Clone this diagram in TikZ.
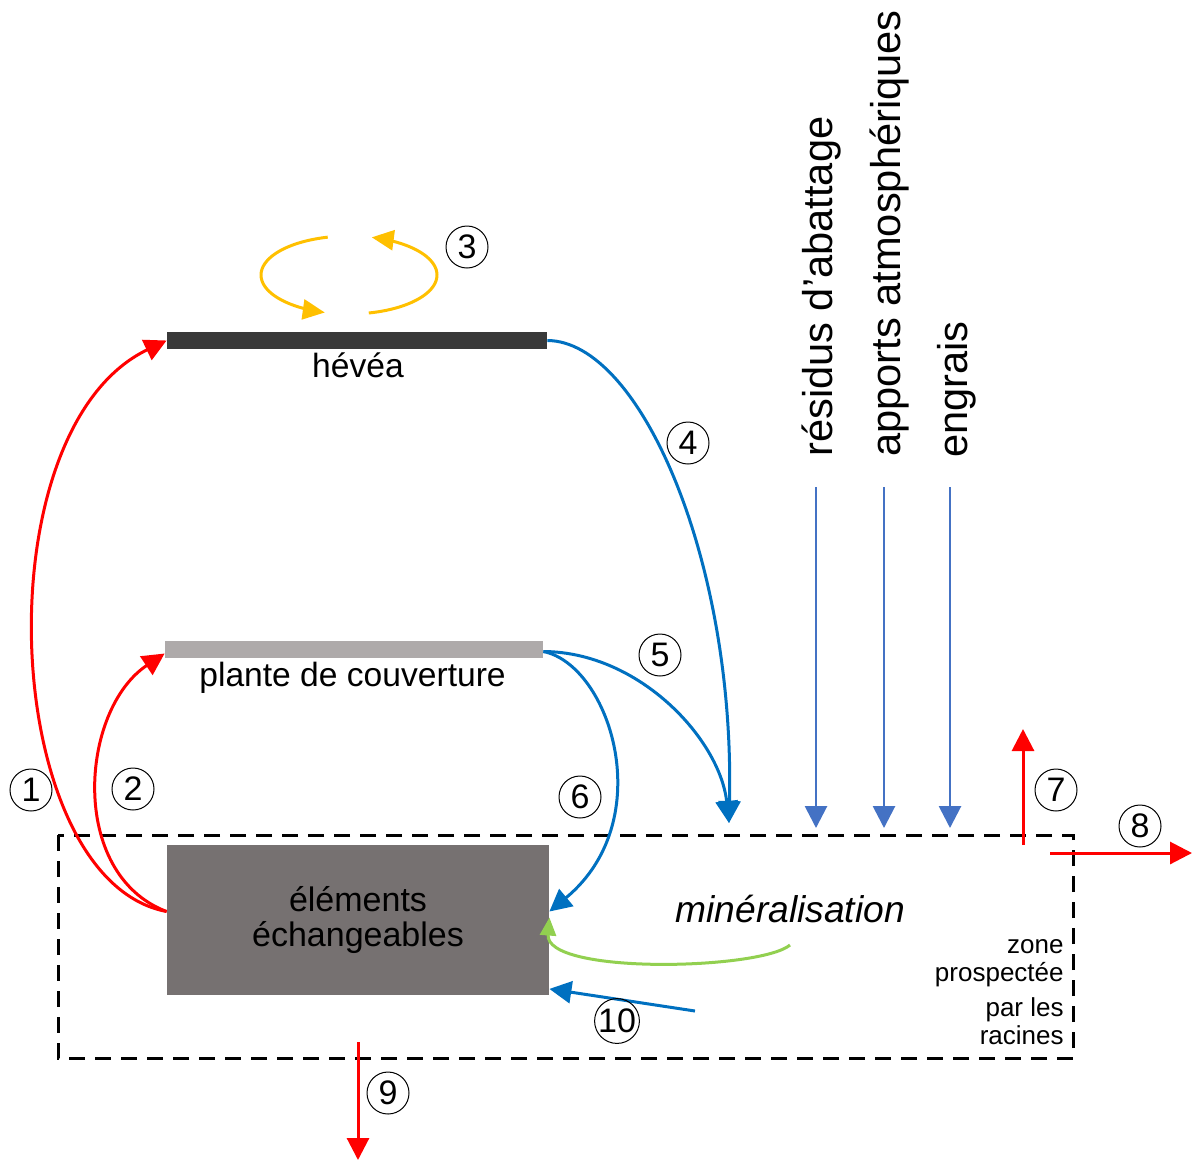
\documentclass[tikz,border=0pt]{standalone}
\usepackage{fontspec}
\setmainfont{Liberation Sans}
\usetikzlibrary{arrows.meta}
\definecolor{redc}{HTML}{FF0000}
\definecolor{bluec}{HTML}{0070C0}
\definecolor{lbluec}{HTML}{4472C4}
\definecolor{yelc}{HTML}{FFC000}
\definecolor{greenc}{HTML}{92D050}
\definecolor{heveac}{HTML}{393939}
\definecolor{plantec}{HTML}{AEAAAA}
\definecolor{boxc}{HTML}{767171}
\tikzset{
  bar/.style={inner sep=0pt, minimum height=8.5pt, draw=none},
  pool/.style={fill=boxc, inner sep=0pt, minimum width=191pt, minimum height=75pt, align=center,
    font=\fontsize{17}{17.5}\selectfont},
  lbl/.style={inner sep=0pt, font=\fontsize{16.8}{20}\selectfont},
  rot/.style={inner sep=0pt, rotate=90, anchor=base west, font=\fontsize{20.8}{24}\selectfont},
  num/.style={circle, draw, line width=0.5pt, inner sep=0pt, minimum size=21pt,
    font=\fontsize{17}{18}\selectfont},
  redarrow/.style={draw=redc, line width=1.5pt, -{Triangle[length=11pt,width=11pt]}},
  bluearrow/.style={draw=bluec, line width=1.5pt, -{Triangle[length=11pt,width=11pt]}},
  vbluearrow/.style={draw=lbluec, line width=1.4pt, -{Triangle[length=11pt,width=11pt]}},
  yelarrow/.style={draw=yelc, line width=1.5pt, -{Triangle[length=11pt,width=10pt]}},
  greenarrow/.style={draw=greenc, line width=1.5pt, -{Triangle[length=9pt,width=8pt]}},
  zone/.style={draw=black, line width=1.5pt, dash pattern=on 8pt off 5pt}
}
\begin{document}
\begin{tikzpicture}[x=0.5pt,y=-0.5pt]
\useasboundingbox (0,0) rectangle (1192,1162);

% dashed root zone
\draw[zone] (58,835) rectangle (1073,1058);

% bars and pool
\node[bar, fill=heveac, minimum width=190pt] (hevea) at (357,340.5) {};
\node[bar, fill=plantec, minimum width=189pt] (plante) at (354,649.5) {};
\node[pool] (box) at (358,919.5) {éléments\\échangeables};

% labels
\node[lbl, anchor=base] (lhevea) at (358,377) {hévéa};
\node[lbl, anchor=base west] (lplante) at (199,686) {plante de couverture};
\node[inner sep=0pt, anchor=base west, font=\fontsize{18.6}{20}\selectfont\itshape] (lmin) at (675,922) {minéralisation};
\node[inner sep=0pt, anchor=base east, align=right, font=\fontsize{13}{14}\selectfont] (lzone) at (1064,1044)
  {zone\\prospectée\\[3.5pt]par les\\racines};

% rotated inputs
\node[rot] (t1) at (832,457) {résidus d’abattage};
\node[rot] (t2) at (900,457) {apports atmosphériques};
\node[rot] (t3) at (967,458) {engrais};

% coordinates
\coordinate (c45) at (729,823);
\coordinate (g0) at (790,945);
\coordinate (c10) at (695,1011);
\coordinate (r1a) at (816,487); \coordinate (r1b) at (816,828);
\coordinate (r2a) at (884,487); \coordinate (r2b) at (884,828);
\coordinate (r3a) at (950,487); \coordinate (r3b) at (950,828);
\coordinate (r7a) at (1023,845); \coordinate (r7b) at (1023,729);
\coordinate (r8a) at (1050,853); \coordinate (r8b) at (1192,853);
\coordinate (r9a) at (358,1042); \coordinate (r9b) at (358,1160);

% red uptake arrows
\draw[redarrow] ([yshift=4pt]box.west) .. controls (0,880) and (-20,430) .. (hevea.west);
\draw[redarrow] ([yshift=4pt]box.west) .. controls (68,874) and (80,710) .. ([yshift=-2pt]plante.west);

% blue returns
\draw[bluearrow] (hevea.east) .. controls (640,341) and (735,560) .. (c45);
\draw[bluearrow] ([yshift=-1pt]plante.east) .. controls (640,652) and (720,740) .. (c45);
\draw[bluearrow] ([yshift=-1pt]plante.east) .. controls (610,665) and (660,820) .. ([yshift=4pt]box.east);
\draw[bluearrow] (c10) -- ([yshift=3pt]box.south east);

% green mineralisation
\draw[greenarrow] (g0) .. controls (760,970) and (545,975) .. ([yshift=1pt]box.east);

% vertical inputs
\draw[vbluearrow] (r1a) -- (r1b);
\draw[vbluearrow] (r2a) -- (r2b);
\draw[vbluearrow] (r3a) -- (r3b);

% losses
\draw[redarrow] (r7a) -- (r7b);
\draw[redarrow] (r8a) -- (r8b);
\draw[redarrow] (r9a) -- (r9b);

% internal recycling
\draw[yelarrow] plot[domain=256:106, samples=50] ({349+88*cos(\x)},{275+39*sin(\x)});
\draw[yelarrow] plot[domain=77:-75, samples=50] ({349+88*cos(\x)},{275+39*sin(\x)});

% numbers
\node[num] (n1) at (31,790) {1};
\node[num] (n2) at (133,789) {2};
\node[num] (n3) at (467,247) {3};
\node[num] (n4) at (688,443) {4};
\node[num] (n5) at (660,655) {5};
\node[num] (n6) at (580,797) {6};
\node[num] (n7) at (1056,790) {7};
\node[num] (n8) at (1140,826) {8};
\node[num] (n9) at (388,1093) {9};
\node[num] (n10) at (617,1021) {10};
\end{tikzpicture}
\end{document}
